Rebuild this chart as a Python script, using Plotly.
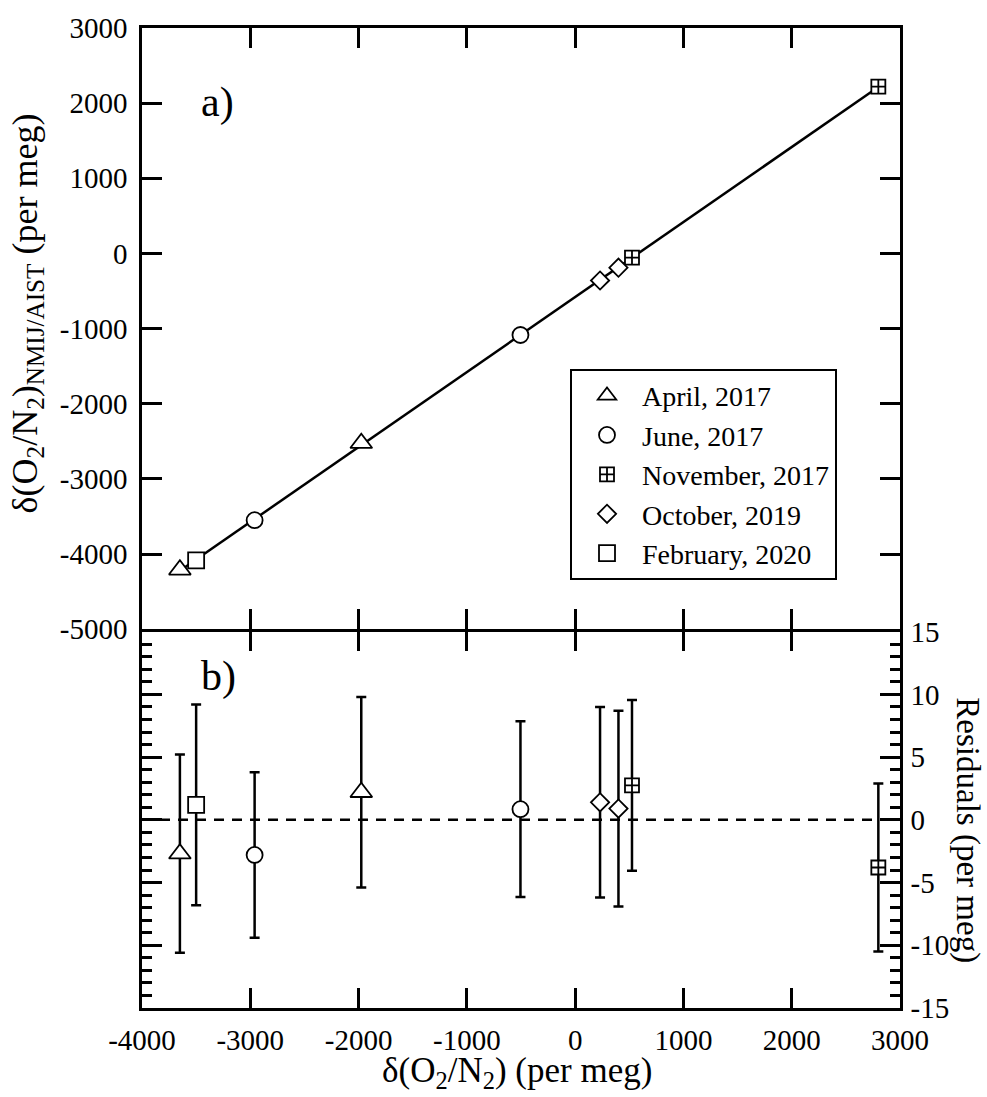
import numpy as np
import plotly.graph_objects as go

# ---------------- data ----------------
categories = ["April, 2017", "June, 2017", "November, 2017", "October, 2019", "February, 2020"]

april_x = [-3650, -1975]
april_y = [-4210, -2525]
april_res = [-2.7, 2.2]
april_err = [7.9, 7.6]

june_x = [-2960, -505]
june_y = [-3550, -1085]
june_res = [-2.8, 0.85]
june_err = [6.6, 7.0]

nov_x = [525, 2800]
nov_y = [-55, 2220]
nov_res = [2.75, -3.8]
nov_err = [6.8, 6.7]

oct_x = [230, 400]
oct_y = [-360, -190]
oct_res = [1.4, 0.9]
oct_err = [7.6, 7.8]

feb_x = [-3500]
feb_y = [-4085]
feb_res = [1.2]
feb_err = [8.0]

x_ticks = [-4000, -3000, -2000, -1000, 0, 1000, 2000, 3000]
x_ticktext = ["-4000", "-3000", "-2000", "-1000", "0", "1000", "2000", "3000"]
y_ticks = [-5000, -4000, -3000, -2000, -1000, 0, 1000, 2000, 3000]
y_ticktext = ["-5000", "-4000", "-3000", "-2000", "-1000", "0", "1000", "2000", "3000"]
r_ticks = [-15, -10, -5, 0, 5, 10, 15]
r_ticktext = ["-15", "-10", "-5", "0", "5", "10", "15"]

# ---------------- figure ----------------
FONT = "Liberation Serif"
series = [
    (categories[0], april_x, april_y, april_res, april_err, "triangle-up", 19),
    (categories[1], june_x, june_y, june_res, june_err, "circle", 16),
    (categories[2], nov_x, nov_y, nov_res, nov_err, "square-cross", 14),
    (categories[3], oct_x, oct_y, oct_res, oct_err, "diamond", 14),
    (categories[4], feb_x, feb_y, feb_res, feb_err, "square", 16),
]

fig = go.Figure()

# fit line through all points
all_x = np.array(april_x + june_x + nov_x + oct_x + feb_x, dtype=float)
all_y = np.array(april_y + june_y + nov_y + oct_y + feb_y, dtype=float)
slope, intercept = np.polyfit(all_x, all_y, 1)
lx = np.array([all_x.min(), all_x.max()])
fig.add_trace(go.Scatter(x=lx, y=slope * lx + intercept, mode="lines",
                         line=dict(color="black", width=2.5),
                         showlegend=False, xaxis="x", yaxis="y", hoverinfo="skip"))

for name, xs, ys, rs, es, sym, sz in series:
    fig.add_trace(go.Scatter(
        x=xs, y=ys, mode="markers", name=name,
        marker=dict(symbol=sym, size=sz, color="white",
                    line=dict(color="black", width=1.8)),
        xaxis="x", yaxis="y"))

# error bars first (under markers)
for name, xs, ys, rs, es, sym, sz in series:
    fig.add_trace(go.Scatter(
        x=xs, y=rs, mode="markers", name=name, showlegend=False,
        marker=dict(size=2, opacity=0, color="black"),
        error_y=dict(type="data", array=es, color="black", thickness=2.5, width=5),
        xaxis="x2", yaxis="y2", hoverinfo="skip"))
for name, xs, ys, rs, es, sym, sz in series:
    fig.add_trace(go.Scatter(
        x=xs, y=rs, mode="markers", name=name, showlegend=False,
        marker=dict(symbol=sym, size=sz, color="white",
                    line=dict(color="black", width=1.8)),
        xaxis="x2", yaxis="y2"))

axis_common = dict(showline=True, linecolor="black", linewidth=2.5, mirror="ticks",
                   ticks="inside", ticklen=20, tickwidth=2.5, tickcolor="black",
                   showgrid=False, zeroline=False,
                   tickfont=dict(family=FONT, size=29, color="black"))

split = 0.384
fig.update_layout(
    width=987, height=1097,
    margin=dict(l=142, r=87, t=26, b=89),
    paper_bgcolor="white", plot_bgcolor="white",
    font=dict(family=FONT, color="black"),
    xaxis=dict(domain=[0, 1], anchor="y", range=[-4000, 3000],
               tickvals=x_ticks, ticktext=x_ticktext, showticklabels=False, **axis_common),
    yaxis=dict(domain=[split + 2.5 / 982, 1], anchor="x", range=[-5000, 3000],
               tickvals=y_ticks, ticktext=y_ticktext, ticklabelstandoff=6, **axis_common),
    xaxis2=dict(domain=[0, 1], anchor="y2", range=[-4000, 3000],
                tickvals=x_ticks, ticktext=x_ticktext, ticklabelstandoff=4, **axis_common),
    yaxis2=dict(domain=[0, split], anchor="x2", range=[-15, 15], side="right",
                tickvals=r_ticks, ticktext=r_ticktext, ticklabelstandoff=2,
                minor=dict(dtick=1, ticklen=10, tickwidth=2.5, tickcolor="black", ticks="inside"),
                **axis_common),
    legend=dict(x=(570 - 142) / 758, y=(1008 - 579) / 982, xanchor="left", yanchor="bottom",
                bordercolor="black", borderwidth=2, bgcolor="white",
                font=dict(family=FONT, size=28, color="black"),
                itemwidth=60, tracegroupgap=0),
    showlegend=True,
)

fig.add_shape(type="line", xref="x2 domain", x0=0, x1=1, yref="y2", y0=0, y1=0,
              line=dict(color="black", width=2.5, dash="10px,8px"), layer="below")

ann_font = dict(family=FONT, size=35, color="black")
fig.add_annotation(text="δ(O<sub>2</sub>/N<sub>2</sub>) (per meg)", xref="paper", yref="paper",
                   x=(517 - 142) / 758, y=(1008 - 1073) / 982, xanchor="center", yanchor="middle",
                   showarrow=False, font=ann_font)
fig.add_annotation(text="δ(O<sub>2</sub>/N<sub>2</sub>)<sub>NMIJ/AIST</sub> (per meg)",
                   xref="paper", yref="paper", textangle=-90,
                   x=(27 - 142) / 758, y=(1008 - 312) / 982, xanchor="center", yanchor="middle",
                   showarrow=False, font=dict(family=FONT, size=36, color="black"))
fig.add_annotation(text="Residuals (per meg)", xref="paper", yref="paper", textangle=90,
                   x=(968 - 142) / 758, y=(1008 - 830) / 982, xanchor="center", yanchor="middle",
                   showarrow=False, font=dict(family=FONT, size=33, color="black"))
fig.add_annotation(text="a)", xref="paper", yref="paper", x=(217 - 142) / 758, y=(1008 - 101) / 982,
                   xanchor="center", yanchor="middle", showarrow=False,
                   font=dict(family=FONT, size=42, color="black"))
fig.add_annotation(text="b)", xref="paper", yref="paper", x=(218 - 142) / 758, y=(1008 - 676) / 982,
                   xanchor="center", yanchor="middle", showarrow=False,
                   font=dict(family=FONT, size=42, color="black"))

fig.write_html("out.html", config={"displayModeBar": False},
               post_script="document.body.style.margin='0px';")
